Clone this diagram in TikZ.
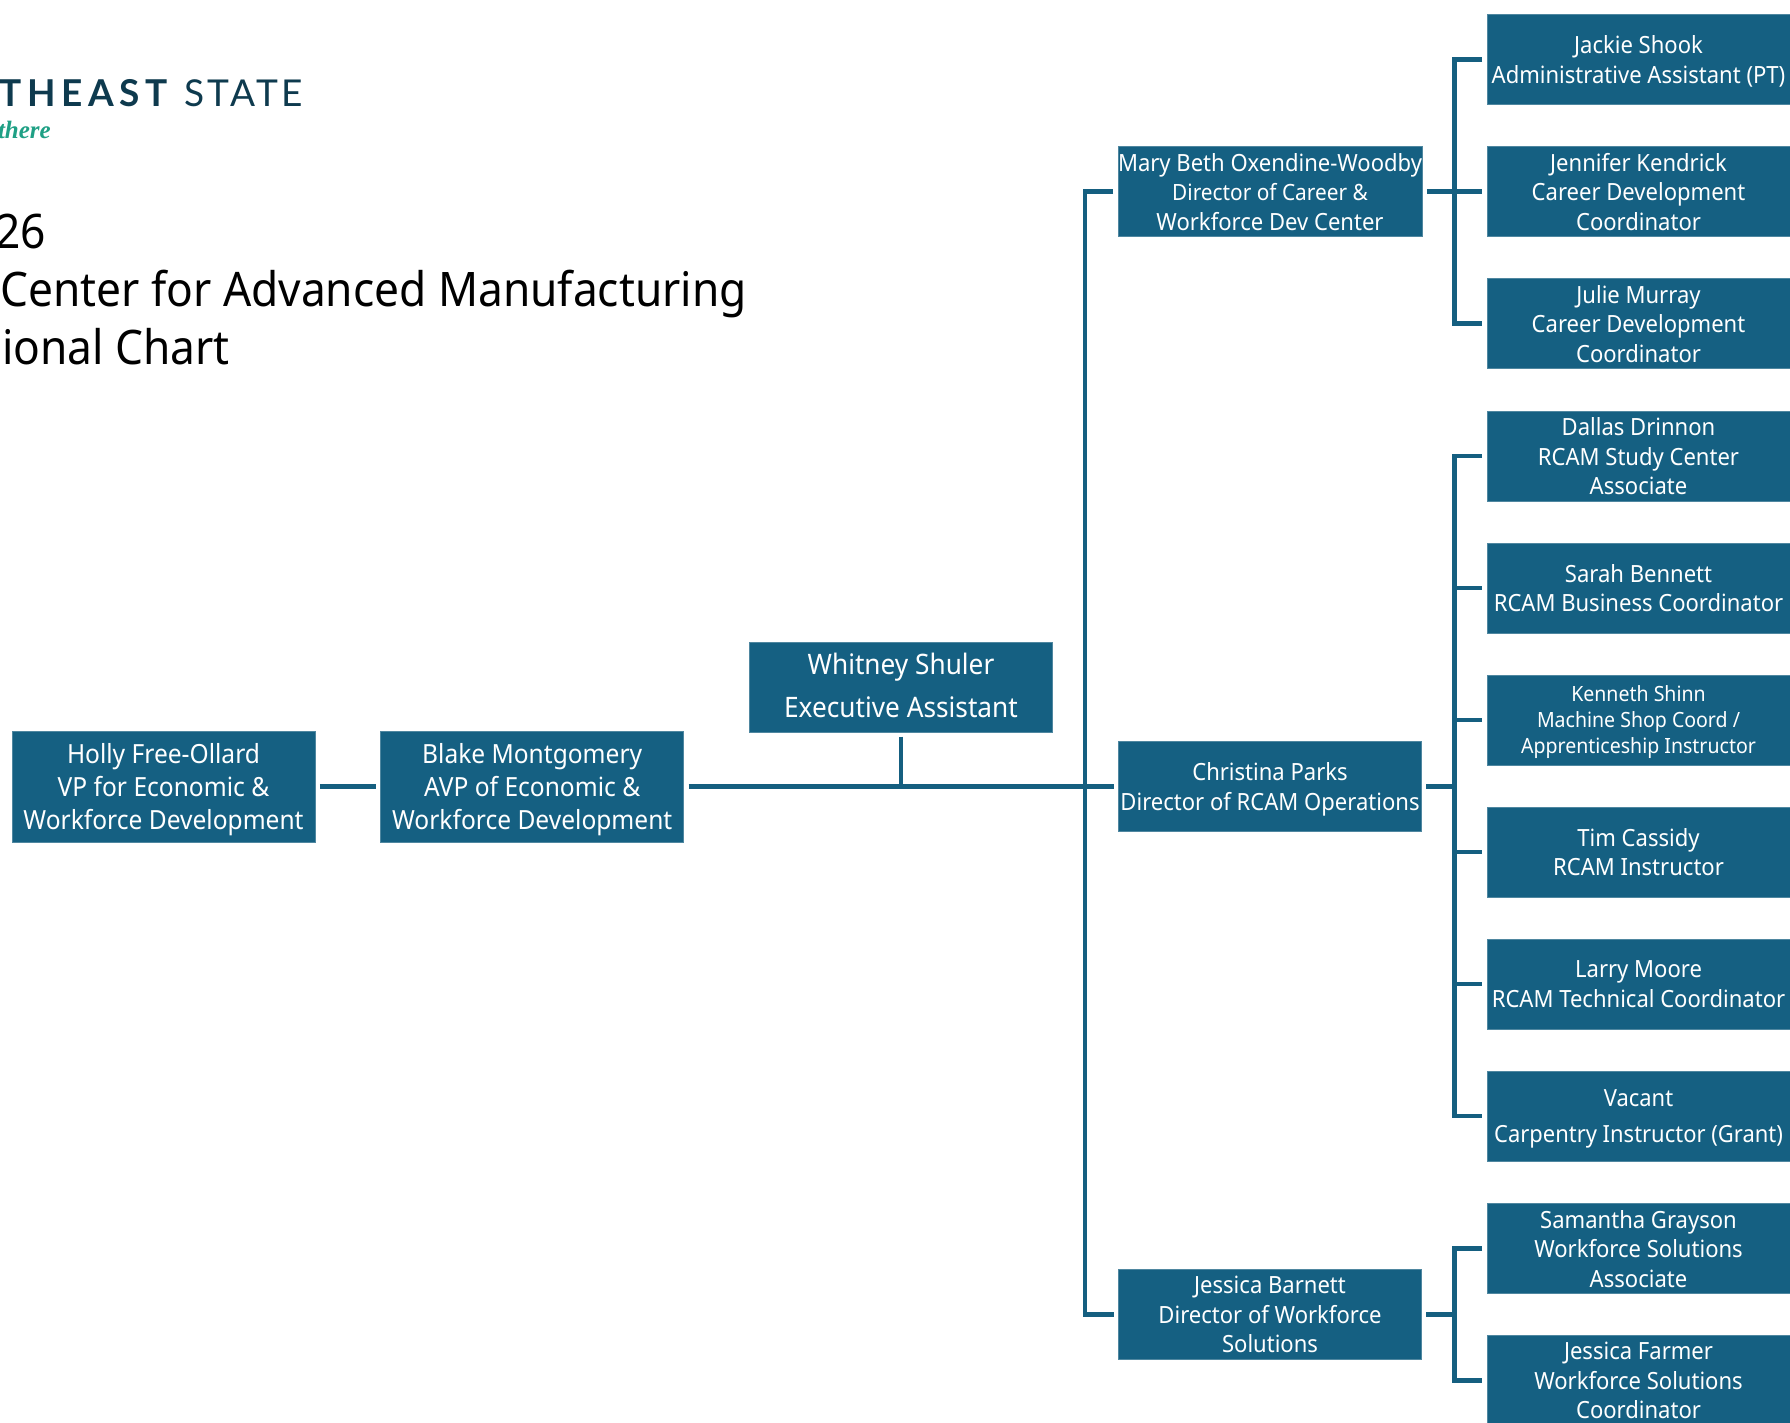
\documentclass[tikz,border=0pt]{standalone}
\usepackage{fontspec}
\setmainfont{Noto Sans}[FakeStretch=0.93]
\newfontfamily\logofont{Lato}
\newfontfamily\logotrack{Lato}[LetterSpace=9]
\newfontfamily\logotrackb{Lato}[LetterSpace=15]
\newfontfamily\tagfont{Liberation Serif}
\definecolor{boxblue}{HTML}{156082}
\definecolor{boxedge}{HTML}{4F87A0}
\definecolor{connblue}{HTML}{155F80}
\definecolor{logonavy}{HTML}{0E3A4E}
\definecolor{logogreen}{HTML}{1FA085}
\newcommand{\fsmain}{\fontsize{23.7}{29.5}\selectfont}
\newcommand{\fssub}{\fontsize{22.4}{29.5}\selectfont}
\tikzset{
  orgbox/.style={draw=boxedge,line width=0.6pt,fill=boxblue,text=white,inner sep=0pt,
    minimum width=303pt,minimum height=90pt,align=center,anchor=center,text depth=0pt,font=\fsmain},
  tallbox/.style={orgbox,minimum height=111pt,font=\fontsize{26.4}{33}\selectfont},
  wide/.style={orgbox,text depth=4pt,font=\fontsize{28.2}{43}\selectfont},
  vacantbox/.style={orgbox,font=\fontsize{23.6}{36}\selectfont},
  tight/.style={orgbox,font=\fontsize{21}{26}\selectfont},
  conn/.style={draw=connblue,line width=4.2pt,line join=miter},
  gapped/.style={conn,shorten <=4.5pt,shorten >=4.5pt},
  titletext/.style={anchor=base east,text=black,inner sep=0pt,font=\fontsize{47.6}{57}\selectfont},
}
\begin{document}
\begin{tikzpicture}[x=1pt,y=-1pt]
\useasboundingbox (0,0) rectangle (1790,1422);
\clip (0,0) rectangle (1790,1422);
\fill[white] (0,0) rectangle (1790,1422);

% logo and title
\node[anchor=base east,inner sep=0pt,text=logonavy,font=\logotrackb\bfseries\fontsize{37}{37}\selectfont] (logoa) at (168,106) {THEAST};
\node[anchor=base east,inner sep=0pt,text=logonavy,font=\logotrack\fontsize{37}{37}\selectfont] (logob) at (303,106) {STATE};
\node[anchor=base east,inner sep=0pt,text=logogreen,font=\tagfont\bfseries\itshape\fontsize{25}{25}\selectfont] (tag) at (51,138.5) {there};
\node[titletext] (t1) at (46.5,248.5) {26};
\node[titletext] (t2) at (747,306) {Center for Advanced Manufacturing};
\node[titletext] (t3) at (230,364) {ional Chart};

% left part
\node[tallbox] (holly) at (163.5,786.5) {Holly Free-Ollard\\VP for Economic \&\\Workforce Development};
\node[tallbox] (blake) at (532.2,786.5) {Blake Montgomery\\AVP of Economic \&\\Workforce Development};
\node[wide] (whitney) at (901,686.8) {Whitney Shuler\\Executive Assistant};

% directors
\node[orgbox] (mary) at (1270,191.5) {Mary Beth Oxendine-Woodby\\{\fssub Director of Career \&}\\Workforce Dev Center};
\node[orgbox] (christina) at (1270,786.5) {Christina Parks\\Director of RCAM Operations};
\node[orgbox] (barnett) at (1270,1314.5) {Jessica Barnett\\Director of Workforce\\Solutions};

% staff
\node[orgbox] (jackie) at (1638.5,59.5) {Jackie Shook\\Administrative Assistant (PT)};
\node[orgbox] (jennifer) at (1638.5,191.5) {Jennifer Kendrick\\Career Development\\Coordinator};
\node[orgbox] (julie) at (1638.5,323.5) {Julie Murray\\Career Development\\Coordinator};
\node[orgbox] (dallas) at (1638.5,456) {Dallas Drinnon\\RCAM Study Center\\Associate};
\node[orgbox] (sarah) at (1638.5,588) {Sarah Bennett\\RCAM Business Coordinator};
\node[tight] (kenneth) at (1638.5,720) {Kenneth Shinn\\Machine Shop Coord /\\Apprenticeship Instructor};
\node[orgbox] (tim) at (1638.5,852) {Tim Cassidy\\RCAM Instructor};
\node[orgbox] (larry) at (1638.5,984) {Larry Moore\\RCAM Technical Coordinator};
\node[vacantbox] (vacant) at (1638.5,1116) {Vacant\\Carpentry Instructor (Grant)};
\node[orgbox] (samantha) at (1638.5,1248.5) {Samantha Grayson\\Workforce Solutions\\Associate};
\node[orgbox] (farmer) at (1638.5,1380.5) {Jessica Farmer\\Workforce Solutions\\Coordinator};

% bus positions
\coordinate (trunk) at (1085.3,0);
\coordinate (busa) at (1454.5,0);

% connectors
\draw[gapped] (holly.east) -- (blake.west);
\draw[gapped] (blake.east) -- (christina.west);
\draw[conn,line width=3.5pt,shorten <=4.5pt] (whitney.south) -- (whitney.south |- blake.east);
\draw[gapped] (mary.west) -- (mary.west -| trunk) -- (barnett.west -| trunk) -- (barnett.west);

\draw[gapped] (mary.east) -- (jennifer.west);
\draw[gapped] (jackie.west) -- (jackie.west -| busa) -- (julie.west -| busa) -- (julie.west);

\draw[conn,shorten <=4.5pt] (christina.east) -- (christina.east -| busa);
\draw[gapped] (dallas.west) -- (dallas.west -| busa) -- (vacant.west -| busa) -- (vacant.west);
\draw[conn,shorten >=4.5pt] (sarah.west -| busa) -- (sarah.west);
\draw[conn,shorten >=4.5pt] (kenneth.west -| busa) -- (kenneth.west);
\draw[conn,shorten >=4.5pt] (tim.west -| busa) -- (tim.west);
\draw[conn,shorten >=4.5pt] (larry.west -| busa) -- (larry.west);

\draw[conn,shorten <=4.5pt] (barnett.east) -- (barnett.east -| busa);
\draw[gapped] (samantha.west) -- (samantha.west -| busa) -- (farmer.west -| busa) -- (farmer.west);
\end{tikzpicture}
\end{document}
